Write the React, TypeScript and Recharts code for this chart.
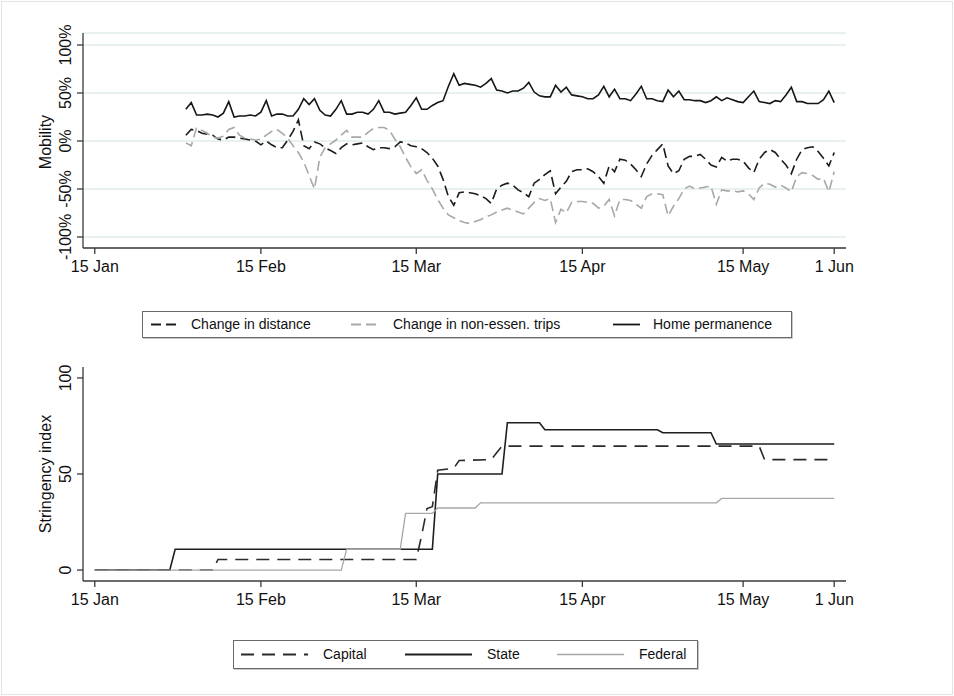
import React from 'react';
import { LineChart, Line, XAxis, YAxis, CartesianGrid } from 'recharts';

// x axis: days counted from 15 Jan
const tickDays = [0, 31, 60, 91, 121, 138];
const tickLabels = ['15 Jan', '15 Feb', '15 Mar', '15 Apr', '15 May', '1 Jun'];
const mobilityTicks = [-100, -50, 0, 50, 100];
const stringencyTicks = [0, 50, 100];

// mobility series, one value per day from 1 Feb (day 17) to 1 Jun (day 138)
const firstDay = 17;
const distance = [
  6, 12, 11, 8, 7, 6, 2, 1, 4, 4,
  3, 2, 1, 0, -4, 0, -4, -7, -7, 1,
  10, 22, -5, -8, -1, -3, -7, -10, -13, -7,
  -3, -4, -3, -2, -6, -9, -7, -7, -8, -6,
  -1, -2, -5, -6, -8, -12, -18, -26, -40, -58,
  -67, -54, -53, -54, -55, -57, -60, -65, -50, -46,
  -44, -46, -51, -54, -58, -44, -40, -35, -31, -55,
  -48, -42, -32, -30, -30, -29, -32, -37, -44, -26,
  -32, -19, -20, -24, -30, -37, -24, -15, -9, -3,
  -26, -34, -31, -19, -16, -16, -14, -19, -25, -27,
  -17, -21, -19, -19, -21, -28, -33, -19, -12, -9,
  -12, -19, -25, -34, -19, -9, -7, -6, -11, -18,
  -26, -12,
];
const trips = [
  -2, -5, 14, 11, 8, 4, 3, 5, 12, 14,
  6, 3, 2, 1, 2, 6, 10, 12, 8, 3,
  -5, -12, -22, -36, -50, -17, -7, -3, 1, 6,
  11, 4, 4, 4, 9, 13, 14, 14, 11, 2,
  -6, -17, -27, -34, -30, -41, -50, -61, -70, -77,
  -80, -83, -85, -86, -84, -82, -79, -77, -74, -72,
  -70, -72, -74, -76, -70, -64, -60, -62, -60, -85,
  -71, -75, -64, -63, -63, -64, -65, -70, -68, -61,
  -78, -61, -61, -62, -66, -70, -58, -55, -55, -56,
  -78, -68, -60, -50, -47, -50, -49, -48, -47, -66,
  -51, -52, -52, -53, -52, -55, -61, -49, -44, -45,
  -48, -46, -49, -53, -37, -33, -34, -36, -40, -39,
  -53, -32,
];
const home = [
  33, 40, 27, 27, 28, 27, 25, 29, 41, 25,
  26, 26, 27, 26, 30, 42, 26, 28, 28, 26,
  26, 33, 44, 38, 44, 32, 27, 26, 33, 42,
  28, 28, 30, 30, 28, 33, 42, 30, 30, 28,
  29, 30, 37, 45, 33, 33, 37, 40, 42, 57,
  70, 58, 60, 59, 58, 56, 60, 65, 53, 52,
  50, 52, 52, 55, 61, 51, 47, 46, 46, 58,
  51, 56, 48, 47, 46, 44, 44, 48, 57, 46,
  54, 44, 44, 42, 49, 57, 44, 44, 42, 41,
  53, 46, 52, 43, 43, 42, 42, 40, 42, 46,
  42, 45, 43, 41, 40, 46, 52, 41, 40, 39,
  42, 41, 48, 56, 41, 41, 39, 39, 39, 43,
  52, 40,
];

// stringency index: days where the value changes, and the values there
const capitalDays = [0, 22, 23, 60, 61, 62, 63, 64, 67, 68, 74, 75, 76, 124, 125, 138];
const capitalValues = [0, 0, 5.5, 5.5, 18, 32, 33, 52, 53, 57, 57.5, 61, 64.5, 64.5, 57.5, 57.5];
const stateDays = [0, 14, 15, 63, 64, 76, 77, 83, 84, 105, 106, 115, 116, 138];
const stateValues = [0, 0, 10.8, 10.8, 50, 50, 76.7, 76.7, 73, 73, 71.5, 71.5, 65.6, 65.6];
const federalDays = [0, 46, 47, 57, 58, 63, 64, 71, 72, 116, 117, 138];
const federalValues = [0, 0, 10.8, 10.8, 29.5, 29.5, 32.3, 32.3, 35, 35, 37.3, 37.3];

const mobilityRows = distance.map((v, i) => ({
  day: firstDay + i,
  distance: v,
  trips: trips[i],
  home: home[i],
}));
const toSteps = (days: number[], values: number[]) => days.map((d, i) => ({ day: d, value: values[i] }));
const capital = toSteps(capitalDays, capitalValues);
const state = toSteps(stateDays, stateValues);
const federal = toSteps(federalDays, federalValues);

const FONT = '"Liberation Sans", Arial, Helvetica, sans-serif';
const AXIS = '#3a3a3a';

const mobilitySeries = [
  { key: 'distance', name: 'Change in distance', color: '#1c1c1c', dash: '10 5', width: 1.6 },
  { key: 'trips', name: 'Change in non-essen. trips', color: '#a8a8a8', dash: '10 5', width: 1.6 },
  { key: 'home', name: 'Home permanence', color: '#161616', dash: undefined, width: 1.6 },
];
const stringencySeries = [
  { name: 'Capital', data: capital, color: '#2a2a2a', dash: '13 8', width: 1.6 },
  { name: 'State', data: state, color: '#1e1e1e', dash: undefined, width: 1.6 },
  { name: 'Federal', data: federal, color: '#a6a6a6', dash: undefined, width: 1.3 },
];

const XTick = (props: any) => {
  const { x, y, payload } = props;
  const i = tickDays.indexOf(payload.value);
  return (
    <text x={x} y={y + 16} textAnchor="middle" fontSize={16} fontFamily={FONT} fill="#111">
      {tickLabels[i]}
    </text>
  );
};

const makeYTick = (suffix: string) => (props: any) => {
  const { x, y, payload } = props;
  const bx = x - 4;
  return (
    <text
      x={bx}
      y={y}
      textAnchor="middle"
      fontSize={16}
      fontFamily={FONT}
      fill="#111"
      transform={`rotate(-90, ${bx}, ${y})`}
    >
      {payload.value + suffix}
    </text>
  );
};

const yTitle = (text: string, cy: number) => () => (
  <text
    x={51}
    y={cy}
    textAnchor="middle"
    fontSize={16}
    fontFamily={FONT}
    fill="#111"
    transform={`rotate(-90, 51, ${cy})`}
  >
    {text}
  </text>
);

type LegendItem = { name: string; color: string; dash?: string; width: number };

function LegendBox({ items, left, top, width, height, symbolX, textX, symbolW }: {
  items: LegendItem[]; left: number; top: number; width: number; height: number;
  symbolX: number[]; textX: number[]; symbolW: number;
}) {
  return (
    <div
      style={{
        position: 'absolute', left, top, width, height,
        border: '1px solid #6a6a6a', boxShadow: '1px 1px 0 #c8c8c8', background: '#fff',
        fontFamily: FONT, fontSize: 14, color: '#111',
      }}
    >
      {items.map((it, i) => (
        <React.Fragment key={it.name}>
          <svg style={{ position: 'absolute', left: symbolX[i] - left, top: 0 }} width={symbolW} height={height}>
            <line x1={0} x2={symbolW} y1={height / 2} y2={height / 2} stroke={it.color}
              strokeWidth={it.width + 0.2} strokeDasharray={it.dash} />
          </svg>
          <span style={{ position: 'absolute', left: textX[i] - left, top: 0, lineHeight: `${height}px`, whiteSpace: 'nowrap' }}>
            {it.name}
          </span>
        </React.Fragment>
      ))}
    </div>
  );
}

export default function App() {
  return (
    <div style={{ position: 'absolute', left: 0, top: 0, width: 954, height: 696, background: '#fff' }}>
      <div style={{ position: 'absolute', left: 1, top: 1, width: 950, height: 692, border: '1px solid #e4e4e4' }} />
      <div style={{ position: 'absolute', left: 0, top: 0 }}>
        <LineChart width={954} height={300} data={mobilityRows} margin={{ top: 33, right: 108, bottom: 22, left: 0 }}>
          <CartesianGrid vertical={false} stroke="#e2ebee" strokeWidth={1.5} />
          <XAxis
            type="number"
            dataKey="day"
            domain={[-2.2, 140.2]}
            ticks={tickDays}
            allowDataOverflow
            height={30}
            tick={XTick}
            tickSize={6}
            stroke={AXIS}
            strokeWidth={1.3}
          />
          <YAxis
            domain={[-111.5, 112.5]}
            ticks={mobilityTicks}
            allowDataOverflow
            width={83}
            tick={makeYTick('%')}
            tickSize={6}
            stroke={AXIS}
            strokeWidth={1.3}
            label={{ content: yTitle('Mobility', 142) }}
          />
          {mobilitySeries.map((s) => (
            <Line
              key={s.key}
              dataKey={s.key}
              type="linear"
              stroke={s.color}
              strokeWidth={s.width}
              strokeDasharray={s.dash}
              dot={false}
              isAnimationActive={false}
            />
          ))}
        </LineChart>
      </div>

      <LegendBox
        items={mobilitySeries}
        left={142} top={311} width={648} height={25}
        symbolX={[150, 350, 612]} textX={[190, 392, 652]} symbolW={27}
      />

      <div style={{ position: 'absolute', left: 0, top: 340 }}>
        <LineChart width={954} height={300} margin={{ top: 27, right: 108, bottom: 29, left: 0 }}>
          <XAxis
            type="number"
            dataKey="day"
            domain={[-2.2, 140.2]}
            ticks={tickDays}
            allowDataOverflow
            height={30}
            tick={XTick}
            tickSize={6}
            stroke={AXIS}
            strokeWidth={1.3}
          />
          <YAxis
            domain={[-5.7, 105.7]}
            ticks={stringencyTicks}
            allowDataOverflow
            width={83}
            tick={makeYTick('')}
            tickSize={6}
            stroke={AXIS}
            strokeWidth={1.3}
            label={{ content: yTitle('Stringency index', 474 - 340) }}
          />
          {stringencySeries.map((s) => (
            <Line
              key={s.name}
              data={s.data}
              dataKey="value"
              name={s.name}
              type="linear"
              stroke={s.color}
              strokeWidth={s.width}
              strokeDasharray={s.dash}
              dot={false}
              isAnimationActive={false}
            />
          ))}
        </LineChart>
      </div>

      <LegendBox
        items={stringencySeries}
        left={233} top={640} width={463} height={27}
        symbolX={[240, 404, 556]} textX={[322, 486, 638]} symbolW={67}
      />
    </div>
  );
}
